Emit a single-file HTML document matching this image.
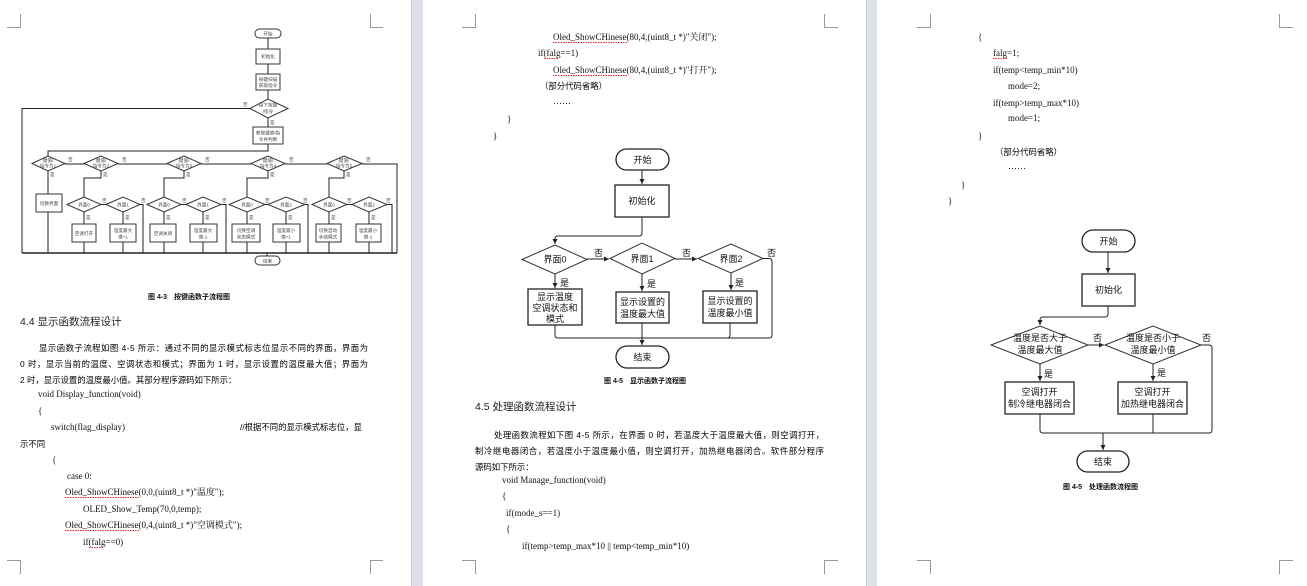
<!DOCTYPE html>
<html><head><meta charset="utf-8"><style>
html,body{margin:0;padding:0;background:#fff;}
svg{display:block}
.c{font-family:"Liberation Serif","Noto Serif CJK SC",serif;font-size:9px;fill:#111}
.t{font-family:"Liberation Sans","Noto Sans CJK SC",sans-serif;font-size:8.4px;fill:#000}
.h{font-family:"Liberation Sans","Noto Sans CJK SC",sans-serif;font-size:10.5px;fill:#222}
.cap{font-family:"Liberation Sans","Noto Sans CJK SC",sans-serif;font-size:7px;fill:#111;font-weight:bold}
.s{font-family:"Liberation Sans","Noto Sans CJK SC",sans-serif;font-size:4.6px;fill:#444}
.f{font-family:"Liberation Sans","Noto Sans CJK SC",sans-serif;font-size:9px;fill:#111}
.ln{stroke:#222;fill:none;stroke-width:1}
.bx{stroke:#222;fill:#fff;stroke-width:1.3}
.bx1{stroke:#333;fill:#fff;stroke-width:1}
.cm{stroke:#999;fill:none;stroke-width:1}
.sq{stroke:#d22;stroke-width:1;stroke-dasharray:1.5 1;fill:none}
</style></head><body>
<svg width="1307" height="586" viewBox="0 0 1307 586" xmlns="http://www.w3.org/2000/svg">
<defs><marker id="a" markerWidth="6" markerHeight="6" refX="5" refY="3" orient="auto"><path d="M0,0.5 L5,3 L0,5.5z" fill="#222"/></marker></defs>
<rect x="0" y="0" width="1307" height="586" fill="#fff"/>
<rect x="411" y="0" width="12" height="586" fill="#dde2e8"/>
<rect x="866" y="0" width="11" height="586" fill="#dde2e8"/>
<line x1="411.5" y1="0" x2="411.5" y2="586" stroke="#c9ced5"/>
<line x1="866.5" y1="0" x2="866.5" y2="586" stroke="#c9ced5"/>

<path class="cm" d="M7,27.5H20.5V14 M370.5,14V27.5H383 M7,560.5H20.5V574 M370.5,574V560.5H383"/>
<path class="cm" d="M462,27.5H475.5V14 M824.5,14V27.5H838 M462,560.5H475.5V574 M824.5,574V560.5H838"/>
<path class="cm" d="M917,27.5H930.5V14 M1279.5,14V27.5H1293 M917,560.5H930.5V574 M1279.5,574V560.5H1293"/>

<g>
<rect class="bx1" x="255" y="29" width="26" height="9" rx="4.5"/><text class="s" x="268" y="35.5" text-anchor="middle">开始</text>
<path class="ln" d="M268,38V49"/>
<rect class="bx1" x="256" y="49" width="24" height="15"/><text class="s" x="268" y="58" text-anchor="middle">初始化</text>
<path class="ln" d="M268,64V74"/>
<rect class="bx1" x="256" y="74" width="24" height="16"/><text class="s" x="268" y="81" text-anchor="middle">按键扫描</text><text class="s" x="268" y="87" text-anchor="middle">获取指令</text>
<path class="ln" d="M268,90V99"/>
<polygon class="bx1" points="250,108.5 268,99 288,108.5 268,118"/><text class="s" x="268" y="106.5" text-anchor="middle">接下按键</text><text class="s" x="268" y="113" text-anchor="middle">/指令</text>
<text class="s" x="243" y="106">否</text><text class="s" x="270" y="124">是</text>
<path class="ln" d="M250,108.5H22V253"/>
<path class="ln" d="M268,118V127"/>
<rect class="bx1" x="253" y="127" width="30" height="17"/><text class="s" x="268" y="134.5" text-anchor="middle">获取键值/指</text><text class="s" x="268" y="141" text-anchor="middle">令并判断</text>
<path class="ln" d="M268,144V151H48V156"/>
<g>
<polygon class="bx1" points="32,163.5 48,156 65,163.5 48,171"/>
<polygon class="bx1" points="84,163.5 101,156 118,163.5 101,171"/>
<polygon class="bx1" points="167,163.5 184,156 201,163.5 184,171"/>
<polygon class="bx1" points="251,163.5 268,156 285,163.5 268,171"/>
<polygon class="bx1" points="327,163.5 344,156 362,163.5 344,171"/>
<text class="s" x="48" y="162" text-anchor="middle">键值/</text><text class="s" x="48" y="167.5" text-anchor="middle">指令为1</text>
<text class="s" x="101" y="162" text-anchor="middle">键值/</text><text class="s" x="101" y="167.5" text-anchor="middle">指令为2</text>
<text class="s" x="184" y="162" text-anchor="middle">键值/</text><text class="s" x="184" y="167.5" text-anchor="middle">指令为3</text>
<text class="s" x="268" y="162" text-anchor="middle">键值/</text><text class="s" x="268" y="167.5" text-anchor="middle">指令为4</text>
<text class="s" x="344" y="162" text-anchor="middle">键值/</text><text class="s" x="344" y="167.5" text-anchor="middle">指令为5</text>
<text class="s" x="68" y="161">否</text><text class="s" x="122" y="161">否</text><text class="s" x="205" y="161">否</text><text class="s" x="289" y="161">否</text><text class="s" x="366" y="161">否</text>
<text class="s" x="50" y="176">是</text><text class="s" x="103" y="176">是</text><text class="s" x="186" y="176">是</text><text class="s" x="270" y="176">是</text><text class="s" x="346" y="176">是</text>
<path class="ln" d="M65,164H84 M118,164H167 M201,164H251 M285,164H327 M362,164H397V253"/>
<path class="ln" d="M48,171V194"/>
<rect class="bx1" x="36" y="194" width="26" height="18"/><text class="s" x="49" y="205" text-anchor="middle">切换界面</text>
<path class="ln" d="M48,212V253"/>
</g>
<g>
<path class="ln" d="M101,171V178H84V197 M184,171V178H164V197 M268,171V178H247V197 M344,171V178H329V197"/>
<polygon class="bx1" points="67,204.5 84,197 101,204.5 84,212"/><polygon class="bx1" points="106,204.5 123,197 140,204.5 123,212"/>
<polygon class="bx1" points="147,204.5 164,197 181,204.5 164,212"/><polygon class="bx1" points="186,204.5 203,197 221,204.5 203,212"/>
<polygon class="bx1" points="229,204.5 247,197 265,204.5 247,212"/><polygon class="bx1" points="268,204.5 286,197 305,204.5 286,212"/>
<polygon class="bx1" points="312,204.5 329,197 347,204.5 329,212"/><polygon class="bx1" points="352,204.5 369,197 387,204.5 369,212"/>
<text class="s" x="84" y="206.5" text-anchor="middle">界面0</text><text class="s" x="123" y="206.5" text-anchor="middle">界面1</text>
<text class="s" x="164" y="206.5" text-anchor="middle">界面0</text><text class="s" x="203" y="206.5" text-anchor="middle">界面1</text>
<text class="s" x="247" y="206.5" text-anchor="middle">界面0</text><text class="s" x="286" y="206.5" text-anchor="middle">界面2</text>
<text class="s" x="329" y="206.5" text-anchor="middle">界面0</text><text class="s" x="369" y="206.5" text-anchor="middle">界面2</text>
<text class="s" x="102" y="202">否</text><text class="s" x="141" y="202">否</text><text class="s" x="182" y="202">否</text><text class="s" x="222" y="202">否</text>
<text class="s" x="265" y="202">否</text><text class="s" x="303" y="202">否</text><text class="s" x="347" y="202">否</text><text class="s" x="386" y="202">否</text>
<path class="ln" d="M101,204.5H106 M140,204.5H143V253 M181,204.5H186 M221,204.5H226V253 M265,204.5H268 M305,204.5H308V253 M347,204.5H352 M387,204.5H392V253"/>
<path class="ln" d="M84,212V224 M123,212V224 M164,212V224 M203,212V224 M247,212V224 M286,212V224 M329,212V224 M369,212V224"/>
<path class="ln" d="M84,242V253 M123,242V253 M164,242V253 M203,242V253 M247,242V253 M286,242V253 M329,242V253 M369,242V253"/>
<text class="s" x="86" y="219">是</text><text class="s" x="125" y="219">是</text><text class="s" x="166" y="219">是</text><text class="s" x="205" y="219">是</text>
<text class="s" x="249" y="219">是</text><text class="s" x="288" y="219">是</text><text class="s" x="331" y="219">是</text><text class="s" x="371" y="219">是</text>
<rect class="bx1" x="72" y="224" width="24" height="18"/><text class="s" x="84" y="235" text-anchor="middle">空调打开</text>
<rect class="bx1" x="110" y="224" width="26" height="18"/><text class="s" x="123" y="232" text-anchor="middle">温度最大</text><text class="s" x="123" y="238.5" text-anchor="middle">值+1</text>
<rect class="bx1" x="150" y="224" width="26" height="18"/><text class="s" x="163" y="235" text-anchor="middle">空调关闭</text>
<rect class="bx1" x="190" y="224" width="27" height="18"/><text class="s" x="203" y="232" text-anchor="middle">温度最大</text><text class="s" x="203" y="238.5" text-anchor="middle">值-1</text>
<rect class="bx1" x="232" y="224" width="28" height="18"/><text class="s" x="246" y="232" text-anchor="middle">切换空调</text><text class="s" x="246" y="238.5" text-anchor="middle">状态模式</text>
<rect class="bx1" x="273" y="224" width="27" height="18"/><text class="s" x="286" y="232" text-anchor="middle">温度最小</text><text class="s" x="286" y="238.5" text-anchor="middle">值+1</text>
<rect class="bx1" x="316" y="224" width="25" height="18"/><text class="s" x="328" y="232" text-anchor="middle">切换自动</text><text class="s" x="328" y="238.5" text-anchor="middle">手动模式</text>
<rect class="bx1" x="356" y="224" width="25" height="18"/><text class="s" x="368" y="232" text-anchor="middle">温度最小</text><text class="s" x="368" y="238.5" text-anchor="middle">值-1</text>
</g>
<path d="M22,253H397" stroke="#222" stroke-width="1.5" fill="none"/>
<path class="ln" d="M267,253V256"/>
<rect class="bx1" x="255" y="256" width="25" height="9" rx="4.5"/><text class="s" x="267.5" y="262.5" text-anchor="middle">结束</text>
<text class="cap" x="148" y="299">图 4-3　按键函数子流程图</text>
</g>

<text class="h" x="20" y="325">4.4 显示函数流程设计</text>
<text class="t" x="39" y="351" textLength="329">显示函数子流程如图 4-5 所示：通过不同的显示模式标志位显示不同的界面，界面为</text>
<text class="t" x="20" y="367" textLength="348">0 时，显示当前的温度、空调状态和模式；界面为 1 时，显示设置的温度最大值；界面为</text>
<text class="t" x="20" y="383">2 时，显示设置的温度最小值。其部分程序源码如下所示：</text>
<text class="c" x="38" y="397">void Display_function(void)</text>
<text class="c" x="38" y="414">{</text>
<text class="c" x="51" y="430">switch(flag_display)</text>
<text class="t" x="240" y="430">//根据不同的显示模式标志位，显</text>
<text class="t" x="20" y="447">示不同</text>
<text class="c" x="52" y="463">{</text>
<text class="c" x="67" y="479">case 0:</text>
<text class="c" x="65" y="495">Oled_ShowCHinese(0,0,(uint8_t *)"温度");</text>
<path class="sq" d="M65,497.5H139"/>
<text class="c" x="83" y="512">OLED_Show_Temp(70,0,temp);</text>
<text class="c" x="65" y="528">Oled_ShowCHinese(0,4,(uint8_t *)"空调模式");</text>
<path class="sq" d="M65,530.5H139"/>
<text class="c" x="83" y="545">if(falg==0)</text>
<path class="sq" d="M89,547.5H103"/>

<text class="c" x="553" y="40">Oled_ShowCHinese(80,4,(uint8_t *)"关闭");</text>
<path class="sq" d="M553,42.5H628"/>
<text class="c" x="538" y="56">if(falg==1)</text>
<path class="sq" d="M544,58.5H558"/>
<text class="c" x="553" y="73">Oled_ShowCHinese(80,4,(uint8_t *)"打开");</text>
<path class="sq" d="M553,75.5H628"/>
<text class="t" x="540" y="89">（部分代码省略）</text>
<text class="c" x="553" y="104">……</text>
<text class="c" x="507" y="122">}</text>
<text class="c" x="493" y="139">}</text>

<rect class="bx" x="616" y="149" width="53" height="21" rx="10.5"/><text class="f" x="642.5" y="163" text-anchor="middle">开始</text>
<path class="ln" d="M642,170V184" marker-end="url(#a)"/>
<rect class="bx" x="615" y="185" width="54" height="32"/><text class="f" x="642" y="204" text-anchor="middle">初始化</text>
<path class="ln" d="M642,217V233Q642,236 639,236H558Q555,236 555,239V244" marker-end="url(#a)"/>
<polygon class="bx1" points="522,259.5 555,245 587,259.5 555,274"/><text class="f" x="555" y="262.5" text-anchor="middle">界面0</text>
<polygon class="bx1" points="610,258.5 642,243 675,258.5 642,274"/><text class="f" x="642" y="262" text-anchor="middle">界面1</text>
<polygon class="bx1" points="698,258.5 731,244 763,258.5 731,273"/><text class="f" x="731" y="262" text-anchor="middle">界面2</text>
<path class="ln" d="M587,259H609" marker-end="url(#a)"/>
<path class="ln" d="M675,259H697" marker-end="url(#a)"/>
<text class="f" x="594" y="256">否</text><text class="f" x="682" y="256">否</text><text class="f" x="767" y="256">否</text>
<path class="ln" d="M763,258.5H769Q772,258.5 772,261.5V335Q772,338 769,338H558Q555,338 555,335V325"/>
<path class="ln" d="M555,274V288" marker-end="url(#a)"/><path class="ln" d="M642,274V291" marker-end="url(#a)"/><path class="ln" d="M731,273V290" marker-end="url(#a)"/>
<text class="f" x="560" y="286">是</text><text class="f" x="647" y="287">是</text><text class="f" x="735" y="286">是</text>
<rect class="bx" x="528" y="289" width="54" height="36"/>
<text class="f" x="555" y="300" text-anchor="middle">显示温度</text><text class="f" x="555" y="311" text-anchor="middle">空调状态和</text><text class="f" x="555" y="322" text-anchor="middle">模式</text>
<rect class="bx" x="616" y="292" width="53" height="31"/>
<text class="f" x="642.5" y="305" text-anchor="middle">显示设置的</text><text class="f" x="642.5" y="317" text-anchor="middle">温度最大值</text>
<rect class="bx" x="703" y="291" width="54" height="32"/>
<text class="f" x="730" y="304" text-anchor="middle">显示设置的</text><text class="f" x="730" y="316" text-anchor="middle">温度最小值</text>
<path class="ln" d="M642,323V345" marker-end="url(#a)"/>
<path class="ln" d="M730,323V335Q730,338 727,338"/>
<rect class="bx" x="616" y="346" width="53" height="22" rx="11"/><text class="f" x="642.5" y="360.5" text-anchor="middle">结束</text>
<text class="cap" x="604" y="383">图 4-5　显示函数子流程图</text>

<text class="h" x="475" y="410">4.5 处理函数流程设计</text>
<text class="t" x="494" y="438" textLength="330">处理函数流程如下图 4-5 所示，在界面 0 时，若温度大于温度最大值，则空调打开，</text>
<text class="t" x="475" y="454" textLength="349">制冷继电器闭合，若温度小于温度最小值，则空调打开，加热继电器闭合。软件部分程序</text>
<text class="t" x="475" y="470">源码如下所示：</text>
<text class="c" x="502" y="483">void Manage_function(void)</text>
<text class="c" x="502" y="499">{</text>
<text class="c" x="506" y="516">if(mode_s==1)</text>
<text class="c" x="506" y="532">{</text>
<text class="c" x="522" y="549">if(temp&gt;temp_max*10 || temp&lt;temp_min*10)</text>

<text class="c" x="978" y="40">{</text>
<text class="c" x="993" y="56">falg=1;</text>
<path class="sq" d="M993,58.5H1007"/>
<text class="c" x="993" y="73">if(temp&lt;temp_min*10)</text>
<text class="c" x="1008" y="89">mode=2;</text>
<text class="c" x="993" y="106">if(temp&gt;temp_max*10)</text>
<text class="c" x="1008" y="121">mode=1;</text>
<text class="c" x="978" y="139">}</text>
<text class="t" x="995" y="155">（部分代码省略）</text>
<text class="c" x="1008" y="169">……</text>
<text class="c" x="961" y="188">}</text>
<text class="c" x="948" y="204">}</text>

<rect class="bx" x="1082" y="230" width="53" height="22" rx="11"/><text class="f" x="1108.5" y="244.5" text-anchor="middle">开始</text>
<path class="ln" d="M1108,252V273" marker-end="url(#a)"/>
<rect class="bx" x="1082" y="274" width="53" height="32"/><text class="f" x="1108.5" y="293" text-anchor="middle">初始化</text>
<path class="ln" d="M1108,306V314Q1108,317 1105,317H1043Q1040,317 1040,320V325" marker-end="url(#a)"/>
<polygon class="bx1" points="991,345 1040,326 1088,345 1040,364"/>
<text class="f" x="1040" y="341" text-anchor="middle">温度是否大于</text><text class="f" x="1040" y="353" text-anchor="middle">温度最大值</text>
<polygon class="bx1" points="1105,345 1153,326 1201,345 1153,364"/>
<text class="f" x="1153" y="341" text-anchor="middle">温度是否小于</text><text class="f" x="1153" y="353" text-anchor="middle">温度最小值</text>
<path class="ln" d="M1088,345H1104" marker-end="url(#a)"/>
<text class="f" x="1093" y="341">否</text><text class="f" x="1202" y="341">否</text>
<path class="ln" d="M1201,345H1209Q1212,345 1212,348V430Q1212,433 1209,433H1043Q1040,433 1040,430V414"/>
<path class="ln" d="M1040,364V381" marker-end="url(#a)"/><path class="ln" d="M1153,364V381" marker-end="url(#a)"/>
<text class="f" x="1044" y="377">是</text><text class="f" x="1157" y="376">是</text>
<rect class="bx" x="1005" y="382" width="69" height="32"/>
<text class="f" x="1039.5" y="395" text-anchor="middle">空调打开</text><text class="f" x="1039.5" y="407" text-anchor="middle">制冷继电器闭合</text>
<rect class="bx" x="1118" y="382" width="69" height="32"/>
<text class="f" x="1152.5" y="395" text-anchor="middle">空调打开</text><text class="f" x="1152.5" y="407" text-anchor="middle">加热继电器闭合</text>
<path class="ln" d="M1153,414V433"/>
<path class="ln" d="M1103,433V450" marker-end="url(#a)"/>
<rect class="bx" x="1077" y="451" width="52" height="21" rx="10.5"/><text class="f" x="1103" y="465" text-anchor="middle">结束</text>
<text class="cap" x="1063" y="489">图 4-5　处理函数流程图</text>
</svg>
</body></html>
